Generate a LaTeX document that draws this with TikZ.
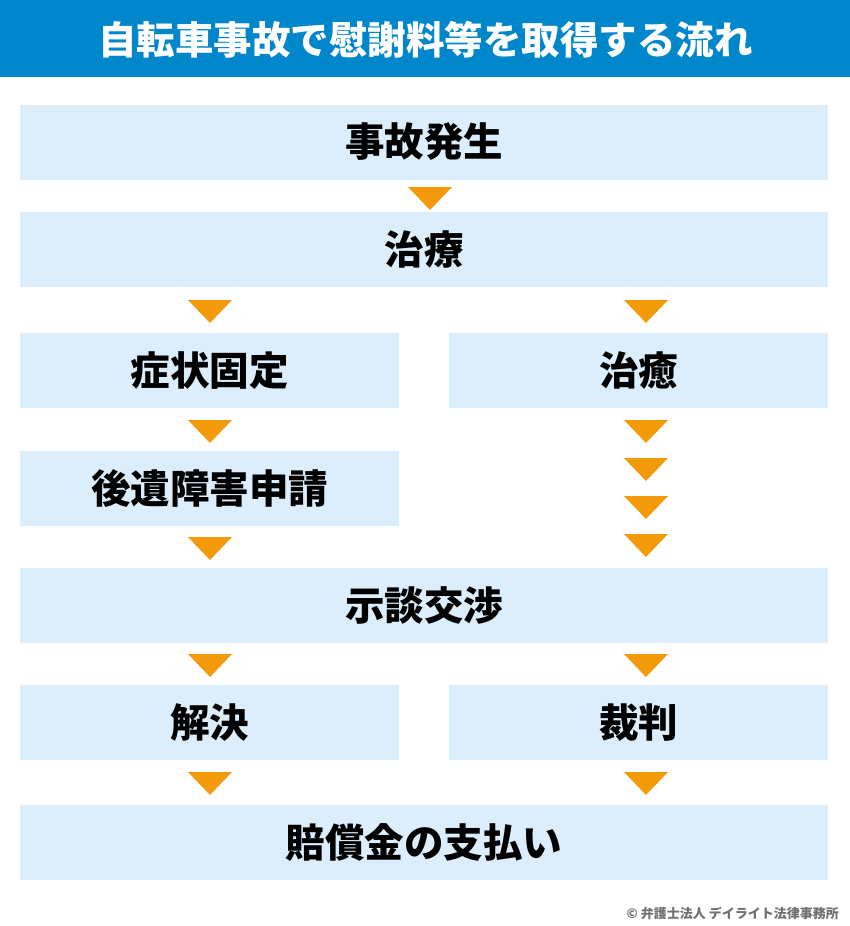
\documentclass[tikz,border=0pt]{standalone}
\usepackage{fontspec}
\setmainfont{Noto Sans CJK JP}
\definecolor{titleblue}{HTML}{0086CB}
\definecolor{boxfill}{HTML}{DCEDFC}
\definecolor{arroworange}{HTML}{F39A0B}
\definecolor{footgray}{HTML}{707070}
\tikzset{
  box/.style={fill=boxfill, draw=none, inner sep=0pt, minimum height=75pt,
    font=\fontsize{39.5}{46}\selectfont\bfseries, text=black},
  wide/.style={box, minimum width=808pt},
  half/.style={box, minimum width=379pt},
  arrowfill/.style={fill=arroworange, draw=none}
}
\newcommand\downtri[2]{\fill[arrowfill] (#1-22,#2) -- (#1+22,#2) -- (#1,#2+23) -- cycle;}
\begin{document}
\begin{tikzpicture}[x=1pt,y=-1pt]
\useasboundingbox (0,0) rectangle (850,926);
\fill[white] (0,0) rectangle (850,926);
% title bar
\fill[titleblue] (0,0) rectangle (850,77);
\node[text=white, font=\fontsize{38.5}{44}\selectfont\bfseries] (title) at (425.5,40) {自転車事故で慰謝料等を取得する流れ};
% boxes
\node[wide] (b1) at (424,142) {事故発生};
\node[wide] (b2) at (424,249.5) {治療};
\node[half] (b3l) at (209.5,370.5) {症状固定};
\node[half] (b3r) at (638.5,370.5) {治癒};
\node[half] (b4l) at (209.5,488.5) {後遺障害申請};
\node[wide] (b5) at (424,605.5) {示談交渉};
\node[half] (b6l) at (209.5,722.5) {解決};
\node[half] (b6r) at (638.5,722.5) {裁判};
\node[wide] (b7) at (424,842) {賠償金の支払い};
% arrows
\downtri{430}{187}
\downtri{210}{300}
\downtri{646}{300}
\downtri{210}{420}
\downtri{646}{420}
\downtri{646}{458}
\downtri{646}{496}
\downtri{646}{534}
\downtri{210}{537}
\downtri{210}{654}
\downtri{646}{654}
\downtri{210}{772}
\downtri{646}{772}
% footer
\node[anchor=east, text=footgray, font=\fontsize{13}{15}\selectfont\bfseries, inner sep=0pt] (foot) at (839,913) {© 弁護士法人 デイライト法律事務所};
\end{tikzpicture}
\end{document}
